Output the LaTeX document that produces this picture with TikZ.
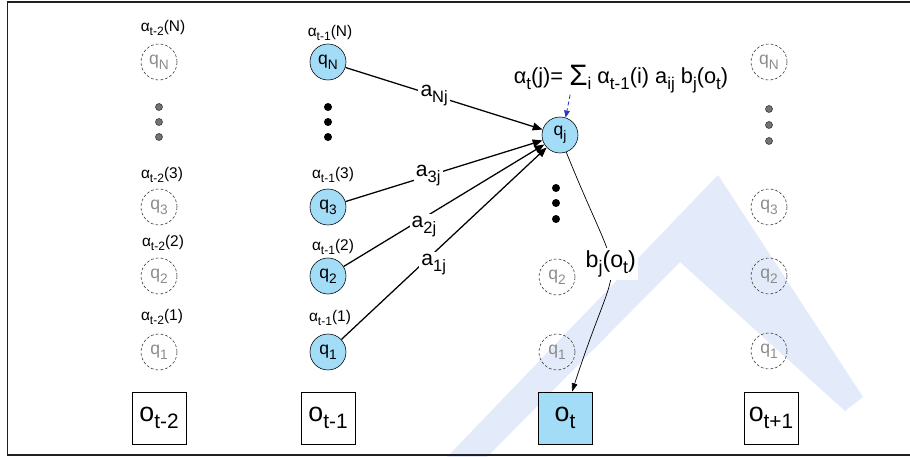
\documentclass[tikz,border=0pt]{standalone}
\usepackage{fontspec}
\setmainfont{Liberation Sans}
\usetikzlibrary{arrows.meta,positioning}
\definecolor{stateblue}{HTML}{A3DCF7}
\definecolor{wmark}{HTML}{E3EBFA}
\definecolor{frameink}{HTML}{231F20}
\definecolor{ghostink}{HTML}{8C8C8C}
\definecolor{traceblue}{HTML}{2B35C8}
\newcommand{\lo}[1]{\raisebox{-0.55ex}{\scalebox{0.78}{#1}}}
\newcommand{\fsz}[1]{\fontsize{#1}{#1}\selectfont}
\tikzset{
  ghost/.style={circle,draw=black!80,dash pattern=on 2pt off 1.4pt,text=ghostink,
                minimum size=0.9cm,inner sep=0pt,font=\fsz{12.5}},
  livestate/.style={circle,draw,fill=stateblue,minimum size=0.9cm,inner sep=0pt,font=\fsz{12.5}},
  obs/.style={draw,minimum width=1.35cm,minimum height=1.3cm,inner sep=0pt,font=\fsz{19}},
  fwd/.style={font=\fsz{11}},
  trans/.style={-{Triangle[length=7pt,width=5.5pt]},line width=0.9pt},
  emit/.style={-{Triangle[length=6pt,width=4pt]},line width=0.5pt},
  wlabel/.style={fill=white,inner sep=1.5pt,font=\fsz{15}},
}
\begin{document}
\begin{tikzpicture}[x=0.025cm,y=0.025cm]
  \useasboundingbox (0,-457) rectangle (910,0);
  % faint watermark behind everything
  \fill[wmark] (447,-457) -- (718,-175) -- (863,-397) -- (845,-411) -- (680,-262) -- (487,-457) -- cycle;
  \draw[frameink,line width=1.4pt] (910,-2) -- (7.5,-2) -- (7.5,-455) -- (910,-455);

  % column t-2
  \node[ghost] (aN) at (159,-62) {q\lo{N}};
  \node[ghost] (a3) at (159,-207) {q\lo{3}};
  \node[ghost] (a2) at (159,-276) {q\lo{2}};
  \node[ghost] (a1) at (159,-352) {q\lo{1}};
  \node[fwd] (faN) at (163,-28) {α\lo{t-2}(N)};
  \node[fwd] (fa3) at (162,-175) {α\lo{t-2}(3)};
  \node[fwd] (fa2) at (163,-243) {α\lo{t-2}(2)};
  \node[fwd] (fa1) at (162,-317) {α\lo{t-2}(1)};
  \foreach \y in {107,122,137}
    \filldraw[fill=black!55,draw=black!80,line width=0.4pt] (159,-\y) circle (3.5);
  \node[obs] (oa) at (159,-418) {o\lo{t-2}};

  % column t-1
  \node[livestate] (qN) at (328,-62) {q\lo{N}};
  \node[livestate] (q3) at (328,-207) {q\lo{3}};
  \node[livestate] (q2) at (328,-276) {q\lo{2}};
  \node[livestate] (q1) at (328,-352) {q\lo{1}};
  \node[fwd] (fbN) at (330,-33) {α\lo{t-1}(N)};
  \node[fwd] (fb3) at (333,-175) {α\lo{t-1}(3)};
  \node[fwd] (fb2) at (333,-247) {α\lo{t-1}(2)};
  \node[fwd] (fb1) at (330,-318) {α\lo{t-1}(1)};
  \foreach \y in {107,122,137}
    \fill (328,-\y) circle (4);
  \node[obs] (ob) at (328,-418) {o\lo{t-1}};

  % column t
  \node[livestate] (qj) at (560,-135) {q\lo{j}};
  \node[ghost] (c2) at (557,-277) {q\lo{2}};
  \node[ghost] (c1) at (557,-352) {q\lo{1}};
  \foreach \y in {188,203,219}
    \fill (556,-\y) circle (4);
  \node[obs,fill=stateblue] (ot) at (565,-418) {o\lo{t}};
  \node[font=\fsz{15.5},inner sep=1pt] (rule) at (621,-79)
    {α\lo{t}(j)= \raisebox{-0.2ex}{\fsz{21}Σ}\lo{i} α\lo{t-1}(i) a\lo{ij} b\lo{j}(o\lo{t})};

  % column t+1
  \node[ghost] (dN) at (769,-62) {q\lo{N}};
  \node[ghost] (d3) at (769,-207) {q\lo{3}};
  \node[ghost] (d2) at (769,-276) {q\lo{2}};
  \node[ghost] (d1) at (769,-351) {q\lo{1}};
  \foreach \y in {109,125,141}
    \filldraw[fill=black!55,draw=black!80,line width=0.4pt] (769,-\y) circle (3.5);
  \node[obs] (oc) at (771,-418) {o\lo{t+1}};

  % transitions into q_j
  \draw[trans] (qN) -- node[wlabel,pos=0.45] {a\lo{Nj}} (qj);
  \draw[trans] (q3) -- node[wlabel,pos=0.42] {a\lo{3j}} (qj);
  \draw[trans] (q2) -- node[wlabel,pos=0.4,yshift=-6pt] {a\lo{2j}} (qj);
  \draw[trans] (q1) -- node[wlabel,pos=0.45,yshift=-8pt] {a\lo{1j}} (qj);
  \draw[traceblue,densely dashed,-{Triangle[length=5pt,width=4pt]},line width=0.6pt]
    ([xshift=1.45cm]rule.south west) -- (qj.72);
  \draw[emit] (qj.-70) to[out=-68,in=72,looseness=1.75]
    node[fill=white,inner sep=1.5pt,font=\fsz{16.5},pos=0.45] (bj) {b\lo{j}(o\lo{t})} (ot.75);
\end{tikzpicture}
\end{document}
